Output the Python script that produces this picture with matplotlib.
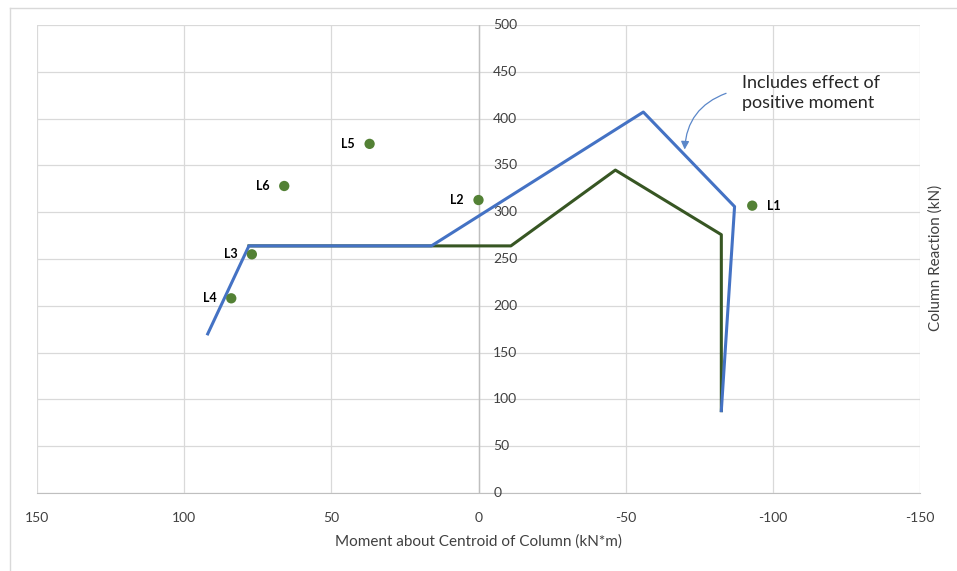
import numpy as np
import matplotlib.pyplot as plt
from matplotlib.lines import Line2D

plt.rcParams['font.family'] = ['Lato', 'DejaVu Sans']
plt.rcParams['axes.unicode_minus'] = False

# envelope including effect of positive moment (blue)
blue_x = [92, 78, 16, -56, -87, -82.5]
blue_y = [170, 264, 264, 407, 306, 88]

# envelope without it (green)
green_x = [78, -11, -46.5, -82.5, -82.5]
green_y = [264, 264, 345, 276, 88]

# load cases
pt_names = ['L1', 'L2', 'L3', 'L4', 'L5', 'L6']
pt_x = [-93, 0, 77, 84, 37, 66]
pt_y = [307, 313, 255, 208, 373, 328]

xticks = [150, 100, 50, 0, -50, -100, -150]
yticks = [0, 50, 100, 150, 200, 250, 300, 350, 400, 450, 500]

grid_col = '#d9d9d9'
text_col = '#404040'

fig = plt.figure(figsize=(9.57, 5.71), dpi=100)
ax = fig.add_axes([37/957, 78/571, 883/957, 468/571])

ax.set_xlim(150, -150)
ax.set_ylim(0, 500)
ax.set_xticks(xticks)
ax.set_yticks(yticks)
ax.grid(True, color=grid_col, linewidth=0.9)
ax.set_axisbelow(True)

for s in ['top', 'right', 'left']:
	ax.spines[s].set_visible(False)
ax.spines['bottom'].set_color('#bfbfbf')
ax.spines['bottom'].set_zorder(0.5)
ax.axvline(0, color='#bfbfbf', linewidth=1.0, zorder=0.6)

ax.tick_params(axis='both', length=0, labelsize=10, labelcolor=text_col)
ax.tick_params(axis='x', pad=14)
ax.set_yticklabels([])
for v in yticks:
	ax.text(-5, v, str(v), fontsize=10, color=text_col, ha='left', va='center')

ax.plot(green_x, green_y, color='#375623', linewidth=2.2, zorder=2)
ax.plot(blue_x, blue_y, color='#4472c4', linewidth=2.2, zorder=3)

ax.scatter(pt_x, pt_y, s=55, color='#538135', zorder=4, edgecolors='none')
for name, x, y in zip(pt_names, pt_x, pt_y):
	if name == 'L1':
		ax.text(x - 5, y, name, fontsize=9, fontweight='bold', ha='left', va='center')
	else:
		ax.text(x + 5, y, name, fontsize=9, fontweight='bold', ha='right', va='center')

ax.text(-89.5, 447, 'Includes effect of\npositive moment', fontsize=13,
		color='#262626', ha='left', va='top', linespacing=1.35)
ax.annotate('', xy=(-70, 364), xytext=(-85, 428),
			arrowprops=dict(arrowstyle='-|>', color='#5b87c9', lw=0.9,
							connectionstyle='arc3,rad=0.35', mutation_scale=12))

ax.set_xlabel('Moment about Centroid of Column (kN*m)', fontsize=11, color=text_col, labelpad=7)
fig.text(936/957, 1 - 258/571, 'Column Reaction (kN)', rotation=90, fontsize=11,
		 color=text_col, ha='center', va='center')

# chart border (top and left visible)
fig.add_artist(Line2D([10/957, 1], [1 - 8/571, 1 - 8/571], color='#d9d9d9', lw=1))
fig.add_artist(Line2D([10/957, 10/957], [0, 1 - 8/571], color='#d9d9d9', lw=1))

fig.savefig('out.png', dpi=100)
